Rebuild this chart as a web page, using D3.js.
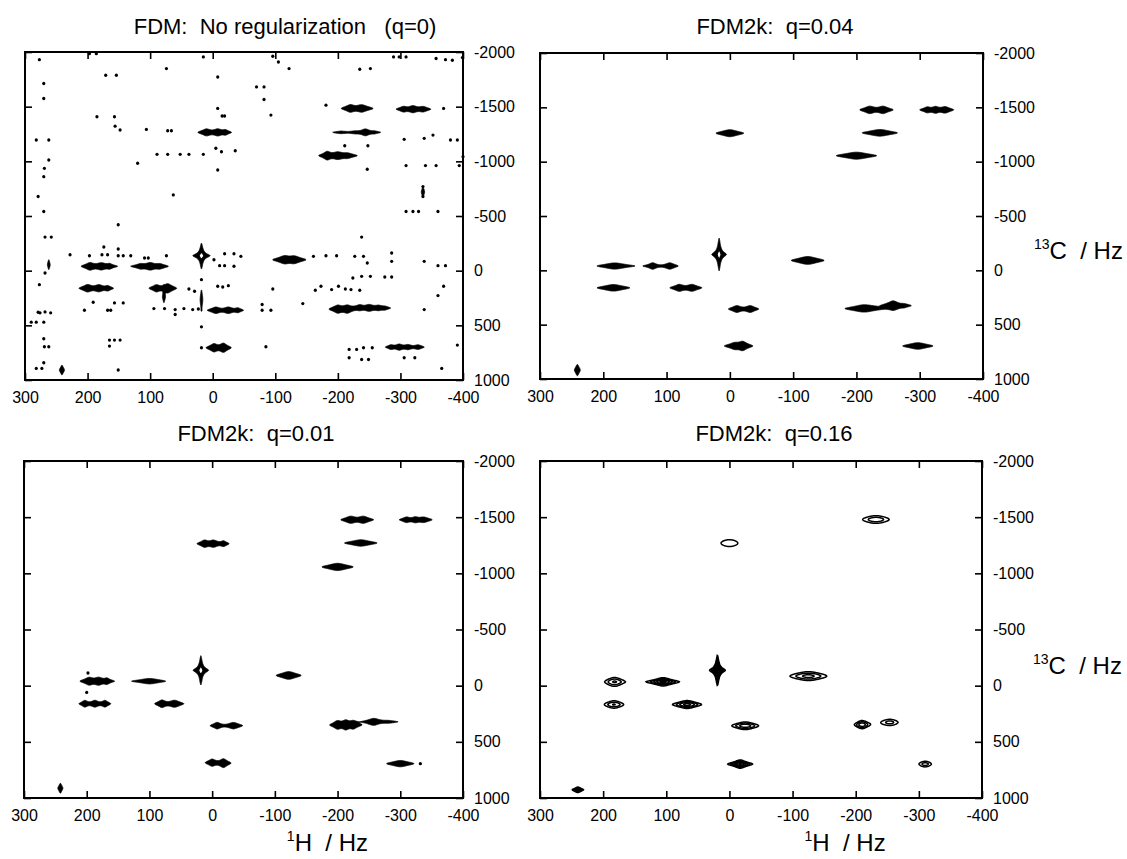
<!DOCTYPE html>
<html>
<head>
<meta charset="utf-8">
<script src="https://cdn.jsdelivr.net/npm/d3@7"></script>
<style>
	body { margin:0; background:#ffffff; }
	svg { display:block; font-family:'Liberation Sans', Arial, Helvetica, sans-serif; }
	.nmr-title { font-size:22px; white-space:pre; }
	.nmr-axislabel { font-size:24px; white-space:pre; }
</style>
</head>
<body>
<svg id="chart" width="1127" height="859"></svg>
<script>

// axis values (Hz)
const aHTicks = [300, 200, 100, 0, -100, -200, -300, -400];
const aCTicks = [-2000, -1500, -1000, -500, 0, 500, 1000];

const aTitles = ['FDM:  No regularization   (q=0)', 'FDM2k:  q=0.04', 'FDM2k:  q=0.01', 'FDM2k:  q=0.16'];

// peaks: [1H centre, 13C centre, 1H width, 13C width, amplitude]
const aPeaksQ0 = [
	[-220,-1484,6,16,5], [-238,-1484,8,16,5],
	[-305,-1477,5,13,4], [-320,-1477,6,15,5], [-336,-1477,6,13,4],
	[10,-1265,6,15,5], [-8,-1265,6,15,5], [-20,-1265,4,12,4],
	[-205,-1265,8,7,3], [-228,-1265,8,7,3], [-244,-1265,6,15,5], [-258,-1265,5,7,3],
	[-183,-1052,5,18,5], [-200,-1052,8,16,5], [-215,-1052,7,12,4],
	[18,-137,1.8,14.7,60],
	[196,-40,6,16,5], [178,-40,7,15,5], [165,-40,4,12,4],
	[115,-40,6,12,4], [100,-40,7,16,5], [85,-40,6,12,4],
	[-115,-100,8,17,5], [-130,-100,8,16,5],
	[200,161,6,16,5], [182,161,6,15,5], [168,161,4,12,4],
	[90,161,5,15,5], [72,161,6,18,6], [78,240,1.2,30,4],
	[18,265,1.2,52,4],
	[-5,362,6,14,5], [-25,362,6,14,5], [-40,362,4,11,4],
	[-200,352,6,17,5], [-215,352,6,17,5], [-235,335,5,12,4], [-250,340,6,14,5], [-265,340,6,12,4], [-275,343,4,9,3],
	[-2,705,5,16,6], [-17,705,5,18,6],
	[-285,699,4,11,4], [-298,699,5,13,5], [-312,699,5,12,4], [-328,699,5,11,4],
	[241,909,2,22,5],
	[262,-55,1.2,26,4], [-336,-720,1.5,26,4]
];

// isolated noise spikes of the unregularized spectrum: [1H, 13C]
const aNoiseQ0 = [
	[277,-1930],[197,-1985],[186,-1985],[15,-1955],[-96,-1961],[-105,-1909],[-122,-1848],[-235,-1842],[-252,-1848],
	[-289,-1955],[-298,-1955],[-309,-1955],[-357,-1940],[-372,-1930],[-383,-1924],[-399,-1949],[74,-1848],
	[270,-1712],[171,-1788],[154,-1788],[-8,-1772],[-70,-1681],[-82,-1681],[-82,-1566],[270,-1575],[-181,-1514],
	[-369,-1484],[-8,-1484],[-15,-1414],[-19,-1414],[185,-1408],[157,-1408],[156,-1322],[148,-1286],[106,-1292],
	[72,-1280],[66,-1280],[-93,-1423],[282,-1195],[262,-1195],[-352,-1240],[-338,-1210],[-306,-1201],[-380,-1195],
	[-391,-1195],[-211,-1143],[-248,-1143],[89,-1064],[72,-1064],[52,-1064],[38,-1064],[15,-1064],[-5,-1119],
	[-14,-1088],[-36,-1097],[120,-982],[-309,-961],[-340,-961],[-357,-961],[-400,-1043],[-394,-961],[262,-1012],
	[269,-936],[-8,-921],[-247,-927],[270,-860],[-336,-769],[-336,-678],[63,-693],[279,-678],[270,-541],
	[-309,-541],[-320,-541],[-329,-541],[-360,-541],[151,-420],[268,-307],[258,-307],[-238,-307],[228,-146],
	[197,-137],[174,-216],[177,-146],[168,-146],[151,-198],[151,-137],[143,-137],[131,-137],[109,-116],[103,-116],
	[74,-137],[-19,-155],[-34,-155],[-45,-131],[-2,-100],[-11,-46],[-19,-46],[-34,-40],[-161,-131],[-181,-137],
	[-198,-137],[-227,-131],[-241,-131],[-247,-70],[-286,-161],[-286,-85],[-338,-85],[-360,-46],[-372,-46],
	[268,21],[277,128],[-224,67],[-238,52],[-252,52],[-275,58],[-286,58],[-173,143],[-164,179],[-190,173],
	[-201,143],[-212,167],[-221,173],[-235,179],[-96,167],[-369,143],[-360,228],[18,82],[-8,143],[-16,149],
	[-25,137],[38,167],[29,188],[191,289],[205,362],[163,362],[157,295],[143,295],[168,362],[94,347],[77,347],
	[60,356],[60,401],[46,347],[32,356],[23,350],[-79,310],[-79,362],[-93,362],[-144,301],[-338,356],[279,380],
	[276,386],[268,377],[259,386],[290,471],[282,471],[270,471],[18,514],[18,705],[-85,696],[-391,681],[165,635],
	[157,635],[148,635],[270,623],[269,696],[262,696],[165,690],[-218,720],[-230,720],[-241,705],[-255,705],
	[-218,796],[-238,812],[-249,812],[-306,796],[-323,796],[282,894],[273,894],[270,842],[151,909],[-366,894]
];

const aPeaksQ004 = [
	[-221,-1477,7,16,5], [-242,-1477,7,16,5],
	[-312,-1477,5,14,4], [-325,-1477,5,14,5], [-340,-1477,6,14,5],
	[0,-1262,11,16,5],
	[-237,-1265,14,15,5],
	[-200,-1055,16,16,5],
	[17,-146,1.5,19.8,60],
	[182,-40,14,14,5],
	[122,-40,5,14,5], [95,-40,6,14,5],
	[-123,-91,13,18,5],
	[184,161,13,15,5],
	[80,161,6,15,5], [60,161,7,15,5],
	[-11,356,6,15,5], [-32,356,6,15,5],
	[-212,352,15,16,5],
	[-258,322,7,18,6], [-275,325,6,9,3],
	[-8,696,7,14,5], [-20,696,6,18,6],
	[-297,696,12,15,5],
	[241,918,2.3,26,5]
];

const aPeaksQ001 = [
	[-221,-1477,7,15,5], [-241,-1477,7,15,5],
	[-310,-1477,5,13,4], [-324,-1477,5,13,4], [-337,-1477,7,13,4],
	[12,-1264,5,15,5], [-2,-1264,6,15,5], [-18,-1264,4,13,4],
	[-237,-1270,13,14,5],
	[-200,-1057,12.5,16,5],
	[18,-137,1.6,17,60],
	[196,-40,6,16,5], [181,-40,6,16,5], [168,-40,4,14,4],
	[100,-40,13,12,5],
	[203,161,4,14,5], [187,161,5,14,5], [171,161,4,14,5],
	[80,161,5,16,5], [60,161,7,15,5],
	[-122,-91,10,17,5],
	[-8,356,5,14,5], [-34,356,7,14,5],
	[-200,350,5,17,5], [-213,350,5,18,6], [-225,350,5,16,5],
	[-258,320,8,14,5], [-280,322,10,7,3],
	[0,685,5,15,5], [-18,690,5,17,6],
	[-300,694,11,14,5],
	[242,913,2,22,5]
];

const aNoiseQ001 = [[198,-113], [200,60], [-332,694]];

const aPeaksQ016 = [
	[-232,-1479,21,34,2.0],
	[0,-1269,21,48,1.4],
	[19,-137,1.6,17.5,60],
	[182,-34,13,34,2.2],
	[105,-34,11,16,6],
	[-125,-85,23,31,2.6],
	[183,168,13,28,2.2],
	[67,168,13,20,4],
	[-25,357,15,24,3],
	[-210,348,8,24,3],
	[-254,326,15,31,1.7],
	[-17,698,7.5,14,8],
	[-310,698,11,28,1.8],
	[240,927,4,11,6]
];

const aFillLevels = [1, 12];
const aLineLevels = [1, 1.5, 2.25, 3.4, 5.1, 7.6, 11.4, 17, 25.6, 38];

function NMR_ContourPanel(sSvg, oPanel, nIndex)
{
	const xScale = d3.scaleLinear().domain([aHTicks[0], aHTicks[aHTicks.length-1]]).range([oPanel.x0, oPanel.x1]);
	const yScale = d3.scaleLinear().domain([aCTicks[0], aCTicks[aCTicks.length-1]]).range([oPanel.y0, oPanel.y1]);

	const nGridX = Math.round((oPanel.x1 - oPanel.x0) * 2);
	const nGridY = Math.round((oPanel.y1 - oPanel.y0) * 2);
	const fH0 = xScale.domain()[0];
	const fC0 = yScale.domain()[0];
	const fDH = (xScale.domain()[1] - fH0) / nGridX;
	const fDC = (yScale.domain()[1] - fC0) / nGridY;

	// sum of 2D lorentzians on the grid
	var aGrid = new Float64Array(nGridX * nGridY);
	oPanel.peaks.forEach(function(peak)
	{
		const fH = peak[0], fC = peak[1], fWH = peak[2], fWC = peak[3], fAmp = peak[4];
		const fGX = (fH - fH0) / fDH - 0.5;
		const fGY = (fC - fC0) / fDC - 0.5;
		const fRX = Math.abs(12 * fWH / fDH);
		const fRY = Math.abs(12 * fWC / fDC);
		const jMin = Math.max(0, Math.floor(fGY - fRY)), jMax = Math.min(nGridY - 1, Math.ceil(fGY + fRY));
		const iMin = Math.max(0, Math.floor(fGX - fRX)), iMax = Math.min(nGridX - 1, Math.ceil(fGX + fRX));
		for (var j = jMin; j <= jMax; j++)
		{
			const v = (fC0 + (j + 0.5) * fDC - fC) / fWC;
			const fV = fAmp / (1 + v * v);
			for (var i = iMin; i <= iMax; i++)
			{
				const u = (fH0 + (i + 0.5) * fDH - fH) / fWH;
				aGrid[j * nGridX + i] += fV / (1 + u * u);
			}
		}
	});

	const aLevels = (oPanel.mode == 'line') ? aLineLevels : aFillLevels;
	const aContours = d3.contours().size([nGridX, nGridY]).thresholds(aLevels)(aGrid);

	const projGrid = d3.geoTransform({
		point: function(x, y)
		{
			this.stream.point(xScale(fH0 + x * fDH), yScale(fC0 + y * fDC));
		}
	});
	const pathGrid = d3.geoPath(projGrid);

	const strClip = 'nmr-clip-' + nIndex;
	sSvg.append('clipPath')
		.attr('id', strClip)
		.append('rect')
			.attr('x', oPanel.x0)
			.attr('y', oPanel.y0)
			.attr('width', oPanel.x1 - oPanel.x0)
			.attr('height', oPanel.y1 - oPanel.y0);

	var sPlot = sSvg.append('g').attr('clip-path', 'url(#' + strClip + ')');

	if (oPanel.mode == 'line')
	{
		sPlot.selectAll('path')
			.data(aContours)
			.enter()
				.append('path')
					.attr('d', pathGrid)
					.attr('fill', 'none')
					.attr('stroke', '#000')
					.attr('stroke-width', 1.5);
	}
	else
	{
		sPlot.selectAll('path')
			.data(aContours)
			.enter()
				.append('path')
					.attr('d', pathGrid)
					.attr('fill-rule', 'evenodd')
					.attr('fill', function(d, i) { return i == 0 ? '#000' : '#fff'; })
					.attr('stroke', '#000')
					.attr('stroke-width', function(d, i) { return i == 0 ? 0.8 : 1.1; });
	}

	sSvg.append('g')
		.selectAll('ellipse')
		.data(oPanel.noise)
		.enter()
			.append('ellipse')
				.attr('cx', function(d) { return xScale(d[0]); })
				.attr('cy', function(d) { return yScale(d[1]); })
				.attr('rx', 1.6)
				.attr('ry', 1.7)
				.attr('fill', '#000');

	// ticks inside on all four sides
	const nTick = -7;
	var sAxisBottom = sSvg.append('g')
		.attr('transform', 'translate(0,' + oPanel.y1 + ')')
		.call(d3.axisBottom(xScale).tickValues(aHTicks).tickSize(nTick).tickPadding(12).tickFormat(function(d) { return String(d); }));
	var sAxisTop = sSvg.append('g')
		.attr('transform', 'translate(0,' + oPanel.y0 + ')')
		.call(d3.axisTop(xScale).tickValues(aHTicks).tickSize(nTick).tickFormat(''));
	var sAxisLeft = sSvg.append('g')
		.attr('transform', 'translate(' + oPanel.x0 + ',0)')
		.call(d3.axisLeft(yScale).tickValues(aCTicks).tickSize(nTick).tickFormat(''));
	var sAxisRight = sSvg.append('g')
		.attr('transform', 'translate(' + oPanel.x1 + ',0)')
		.call(d3.axisRight(yScale).tickValues(aCTicks).tickSize(nTick).tickPadding(11).tickFormat(function(d) { return String(d); }));

	[sAxisBottom, sAxisTop, sAxisLeft, sAxisRight].forEach(function(sAxis)
	{
		sAxis.select('.domain').remove();
		sAxis.attr('font-family', null).attr('font-size', null);
		sAxis.selectAll('line').attr('stroke', '#000').attr('stroke-width', 1.6);
		sAxis.selectAll('text').attr('fill', '#000').style('font-size', '16px');
	});

	sSvg.append('rect')
		.attr('x', oPanel.x0)
		.attr('y', oPanel.y0)
		.attr('width', oPanel.x1 - oPanel.x0)
		.attr('height', oPanel.y1 - oPanel.y0)
		.attr('fill', 'none')
		.attr('stroke', '#000')
		.attr('stroke-width', 2);

	sSvg.append('text')
		.attr('class', 'nmr-title')
		.attr('x', oPanel.titleX)
		.attr('y', oPanel.titleY)
		.attr('text-anchor', 'middle')
		.text(oPanel.title);

	if (oPanel.cLabel)
	{
		var sLabel = sSvg.append('text')
			.attr('class', 'nmr-axislabel')
			.attr('x', oPanel.x1 + 51)
			.attr('y', yScale(-100));
		sLabel.append('tspan').style('font-size', '14px').attr('dy', -10).text('13');
		sLabel.append('tspan').attr('dy', 10).text('C  / Hz');
	}

	if (oPanel.hLabel)
	{
		var sLabel = sSvg.append('text')
			.attr('class', 'nmr-axislabel')
			.attr('x', xScale(-100) + 12)
			.attr('y', 851);
		sLabel.append('tspan').style('font-size', '14px').attr('dy', -10).text('1');
		sLabel.append('tspan').attr('dy', 10).text('H  / Hz');
	}
}

var sSvg = d3.select('#chart');

var aPanels = [
	{ title:aTitles[0], peaks:aPeaksQ0, noise:aNoiseQ0, mode:'fill', x0:25, x1:463, y0:52, y1:380, titleX:285, titleY:34 },
	{ title:aTitles[1], peaks:aPeaksQ004, noise:[], mode:'fill', x0:540, x1:983, y0:53, y1:379, titleX:775, titleY:34, cLabel:true },
	{ title:aTitles[2], peaks:aPeaksQ001, noise:aNoiseQ001, mode:'fill', x0:24, x1:463, y0:461, y1:798, titleX:256, titleY:441, hLabel:true },
	{ title:aTitles[3], peaks:aPeaksQ016, noise:[], mode:'line', x0:540, x1:982, y0:461, y1:798, titleX:774, titleY:441, cLabel:true, hLabel:true }
];

aPanels.forEach(function(oPanel, nIndex)
{
	NMR_ContourPanel(sSvg, oPanel, nIndex);
});

</script>
</body>
</html>
